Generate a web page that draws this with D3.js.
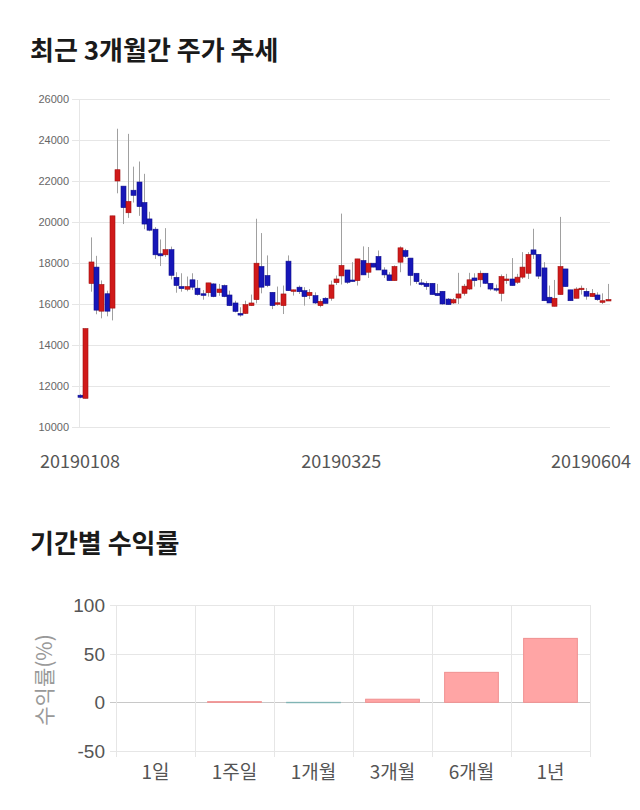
<!DOCTYPE html>
<html><head><meta charset="utf-8">
<script src="https://cdn.jsdelivr.net/npm/d3@7"></script>
<style>body{margin:0;background:#fff;}svg{display:block;font-family:"Noto Sans CJK KR","Noto Sans",sans-serif;}</style>
</head><body>
<svg id="c" width="640" height="810"></svg>
<script>
// ---- price chart data ----
const openP  = [11550,11400,17000,17800,15650,16500,15800,22000,21750,20450,21550,21950,20950,20150,19650,18450,18400,18650,17300,16850,
16720,17180,16770,16500,16550,16980,16560,16900,16440,16050,15540,15540,15920,16210,17830,17390,16570,16000,15920,18090,
16620,16820,16650,16410,16410,15920,16280,16280,17040,17370,17660,17170,17140,18120,17550,17990,18320,17660,17420,17140,
18040,18610,18240,17500,17030,17010,17010,16520,16620,16240,16050,16290,16520,16730,17270,17180,17500,17010,16750,16520,
17140,17220,17060,17310,17500,18640,18420,17760,16330,15890,16460,17710,16690,16280,16700,16620,16360,16440,16080,16200];
const highP  = [11600,14800,19250,18350,17150,16650,20300,24550,21750,24300,22700,22950,22350,20500,19750,19150,19700,18800,17550,17500,
17340,17500,17170,16680,17030,17010,16980,16950,16650,16160,15840,16160,16460,20160,19460,18370,16570,16850,16900,18370,
16700,16900,16820,16730,16570,16240,16330,17140,17390,20410,17660,18040,18200,18810,18780,18000,18610,17790,17550,17880,
18810,18690,18240,17500,17220,17110,17010,16980,16620,16290,16290,17520,16980,17520,17500,17630,17500,17010,16950,17440,
17470,18240,17470,18530,18530,19670,18420,18040,16900,17175,20250,17710,16690,16816,16900,16780,16730,16570,16520,16980];
const lowP   = [11400,11400,16600,15500,15300,15400,15200,21400,19900,20200,20950,20300,19650,19550,18200,17850,18300,17200,16550,16600,
16620,16680,16410,16210,16360,16330,16400,16330,15900,15590,15380,15510,15900,16030,16520,16820,15750,15920,15510,16650,
16410,16490,15920,16240,15999,15840,16030,16160,16930,16950,16980,17090,16900,17420,17270,17790,17660,17270,17140,17140,
17550,18250,16900,16980,16900,16690,16460,16400,15970,15970,16000,16000,16410,16680,16850,16820,16980,16650,16600,16130,
16980,16900,16980,17220,17220,18200,17220,16160,16050,15885,16460,16850,16160,16277,16460,16210,16360,16160,16000,16160];
const closeP = [11450,14800,18050,15700,16950,15650,20300,22550,20700,21000,21300,20750,19900,19600,18400,18350,18650,17400,16900,16750,
16850,16820,16460,16420,17030,16360,16730,16360,15920,15640,15460,15970,16050,17990,16820,16900,15920,16060,16490,16650,
16690,16600,16360,16570,16050,16130,16030,16930,17220,17880,17060,17110,18200,17420,17990,17800,17660,17420,17140,17830,
18740,18320,17390,17090,16950,16850,16460,16410,16000,15970,16210,16490,16870,17180,17140,17500,17010,16730,16680,17340,
17220,16900,17310,17800,18420,18420,17360,16160,16050,16280,17830,16850,16160,16730,16770,16380,16520,16210,16160,16220];
const priceTicks = [10000,12000,14000,16000,18000,20000,22000,24000,26000];
const dateLabels = ["20190108","20190325","20190604"];
const dateLabelIdx = [0,49,99];

// ---- return chart data ----
const periods = ["1일","1주일","1개월","3개월","6개월","1년"];
const returns = [0,0.7,-0.4,3.2,30.8,65.7];
const returnTicks = [-50,0,50,100];

const svg = d3.select("#c");

// titles
svg.append("text").attr("x",30).attr("y",60).attr("font-size",26).attr("font-weight","bold").attr("fill","#1a1a1a").text("최근 3개월간 주가 추세");
svg.append("text").attr("x",30).attr("y",553).attr("font-size",26).attr("font-weight","bold").attr("fill","#1a1a1a").text("기간별 수익률");

// ---- candlestick ----
const idx = d3.range(openP.length);
const x = d3.scalePoint().domain(idx).range([80,607.7]);
const y = d3.scaleLinear().domain([10000,26000]).range([427,99]);

const g1 = svg.append("g");
g1.selectAll("line.grid").data(priceTicks).join("line")
  .attr("x1",72).attr("x2",610).attr("y1",d=>Math.round(y(d))+0.5).attr("y2",d=>Math.round(y(d))+0.5)
  .attr("stroke","#e6e6e6");
g1.append("line").attr("x1",79.5).attr("x2",79.5).attr("y1",99).attr("y2",428).attr("stroke","#e6e6e6");
g1.selectAll("text.yl").data(priceTicks).join("text")
  .attr("x",69).attr("y",d=>y(d)+4).attr("text-anchor","end").attr("font-size",11).attr("fill","#666")
  .attr("font-family","Arial, 'Liberation Sans', sans-serif").text(d=>d);

const cg = g1.selectAll("g.c").data(idx).join("g");
cg.append("line").attr("x1",i=>Math.round(x(i))+0.5).attr("x2",i=>Math.round(x(i))+0.5)
  .attr("y1",i=>y(highP[i])).attr("y2",i=>y(lowP[i])).attr("stroke","#a0a0a0").attr("stroke-width",1);
cg.append("rect")
  .attr("x",i=>Math.round(x(i))-2).attr("width",5)
  .attr("y",i=>y(Math.max(openP[i],closeP[i])))
  .attr("height",i=>Math.max(1.5,Math.abs(y(openP[i])-y(closeP[i]))))
  .attr("fill",i=>closeP[i]>=openP[i]?"#d01a1a":"#1616b8")
  .attr("stroke",i=>closeP[i]>=openP[i]?"#a01010":"#10108a").attr("stroke-width",0.6);

g1.selectAll("text.xl").data(dateLabels).join("text")
  .attr("x",(d,k)=>k===dateLabels.length-1?631:x(dateLabelIdx[k]))
  .attr("y",468).attr("text-anchor",(d,k)=>k===dateLabels.length-1?"end":"middle")
  .attr("font-size",18).attr("fill","#555").text(d=>d);

// ---- returns bar chart ----
const xb = d3.scaleBand().domain(periods).range([116,590]).paddingInner(0.32).paddingOuter(0.16);
const yb = d3.scaleLinear().domain([-50,100]).range([751,605]);
const g2 = svg.append("g");
g2.selectAll("line.hg").data(returnTicks).join("line")
  .attr("x1",110).attr("x2",590).attr("y1",d=>Math.round(yb(d))+0.5).attr("y2",d=>Math.round(yb(d))+0.5)
  .attr("stroke",d=>d===0?"#c8c8c8":"#e6e6e6");
const step = xb.step();
g2.selectAll("line.vg").data(d3.range(periods.length+1)).join("line")
  .attr("x1",k=>Math.round(116+k*step)+0.5).attr("x2",k=>Math.round(116+k*step)+0.5)
  .attr("y1",605).attr("y2",757).attr("stroke","#e6e6e6");
g2.selectAll("text.yl").data(returnTicks).join("text")
  .attr("x",105).attr("y",d=>yb(d)+7).attr("text-anchor","end").attr("font-size",19).attr("fill","#555")
  .attr("font-family","Arial, 'Liberation Sans', sans-serif").text(d=>d);
g2.selectAll("rect").data(periods).join("rect")
  .attr("x",d=>xb(d)).attr("width",xb.bandwidth())
  .attr("y",(d,k)=>yb(Math.max(0,returns[k])))
  .attr("height",(d,k)=>Math.abs(yb(returns[k])-yb(0)))
  .attr("fill",(d,k)=>returns[k]>=0?"#ffa5a5":"#9cc9c9")
  .attr("stroke",(d,k)=>returns[k]>=0?"#f09090":"#80b4b4").attr("stroke-width",1);
g2.selectAll("text.xl").data(periods).join("text")
  .attr("x",d=>xb(d)+xb.bandwidth()/2).attr("y",779).attr("text-anchor","middle")
  .attr("font-size",19).attr("fill","#555").text(d=>d);
g2.append("text").attr("transform","translate(52,680) rotate(-90)").attr("text-anchor","middle")
  .attr("font-size",21).attr("fill","#999").text("수익률(%)");
</script>
</body></html>
